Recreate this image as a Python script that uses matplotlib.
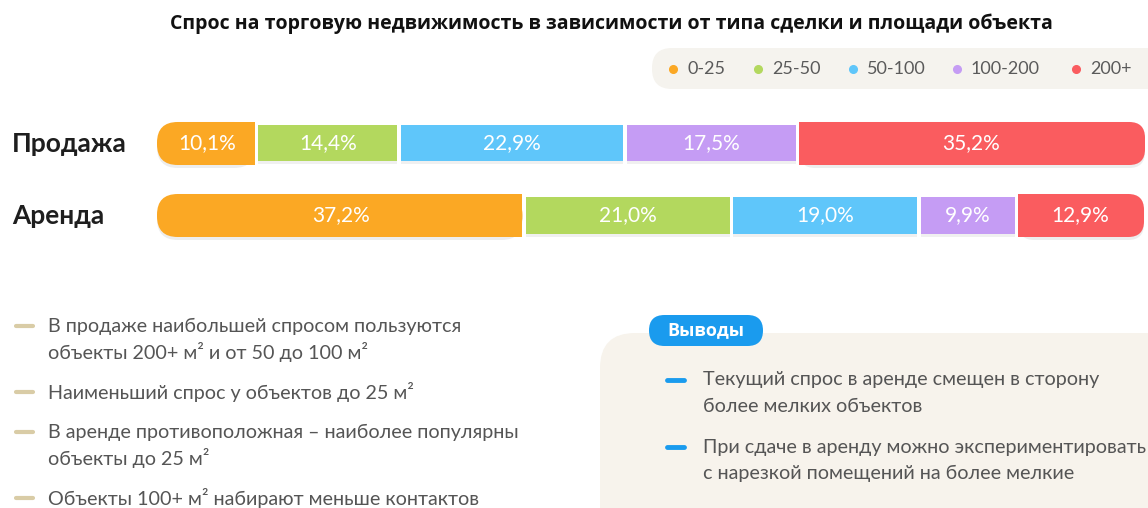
import matplotlib
matplotlib.use("Agg")
import numpy as np
import matplotlib.pyplot as plt
from matplotlib.patches import FancyBboxPatch, Rectangle

# --- data ---
TITLE = "Спрос на торговую недвижимость в зависимости от типа сделки и площади объекта"
rows = ["Продажа", "Аренда"]
bins = ["0-25", "25-50", "50-100", "100-200", "200+"]
sale = [10.1, 14.4, 22.9, 17.5, 35.2]
rent = [37.2, 21.0, 19.0, 9.9, 12.9]
colors = ["#FBA824", "#B3D85E", "#5FC6FA", "#C59CF4", "#FA5C5F"]

notes_left = [
    ["В продаже наибольшей спросом пользуются", "объекты 200+ м² и от 50 до 100 м²"],
    ["Наименьший спрос у объектов до 25 м²"],
    ["В аренде противоположная – наиболее популярны", "объекты до 25 м²"],
    ["Объекты 100+ м² набирают меньше контактов"],
]
notes_right = [
    ["Текущий спрос в аренде смещен в сторону", "более мелких объектов"],
    ["При сдаче в аренду можно экспериментировать", "с нарезкой помещений на более мелкие"],
]

plt.rcParams["font.family"] = ["Lato", "DejaVu Sans"]
W, H = 1148, 508
fig = plt.figure(figsize=(W / 100, H / 100), dpi=100)
fig.patch.set_facecolor("white")

# pixel-space overlay for text and decoration
ax = fig.add_axes([0, 0, 1, 1])
ax.set_xlim(0, W)
ax.set_ylim(H, 0)
ax.axis("off")

ax.text(611, 24, TITLE, ha="center", va="center", fontsize=14,
        fontweight="bold", family=["Open Sans", "DejaVu Sans"], color="#111")

# legend pill
ax.add_patch(FancyBboxPatch((652, 48), 540, 41, boxstyle="round,pad=0,rounding_size=20",
                            facecolor="#F5F3EE", edgecolor="none"))
leg_x = [673, 758, 853, 957, 1076]
for lx, lab, c in zip(leg_x, bins, colors):
    ax.plot(lx, 69, "o", color=c, markersize=5.5)
    ax.text(lx + 14, 69, lab, ha="left", va="center", fontsize=13, color="#5a5a5a")

# row labels
for ry, lab in zip([143.5, 215.5], rows):
    ax.text(12, ry, lab, ha="left", va="center", fontsize=19, fontweight="bold", color="#1e1e1e")

# left notes
y = 326
for item in notes_left:
    ax.plot([16, 33], [y, y], color="#D9CCA6", linewidth=3, solid_capstyle="round")
    for line in item:
        ax.text(48, y, line, ha="left", va="center", fontsize=14.2, color="#555")
        y += 26
    y += 14

# right box
ax.add_patch(FancyBboxPatch((600, 333), 620, 230, boxstyle="round,pad=0,rounding_size=35",
                            facecolor="#F7F3EC", edgecolor="none"))
ax.add_patch(FancyBboxPatch((649, 315), 114, 31, boxstyle="round,pad=0,rounding_size=15.5",
                            facecolor="#1A9BEE", edgecolor="none"))
ax.text(706, 330, "Выводы", ha="center", va="center", fontsize=13,
        fontweight="bold", family=["Open Sans", "DejaVu Sans"], color="white")
y = 380
for item in notes_right:
    ax.plot([667, 684], [y, y], color="#1A9BEE", linewidth=3.5, solid_capstyle="round")
    for line in item:
        ax.text(703, y, line, ha="left", va="center", fontsize=14.2, color="#555")
        y += 26
    y += 15

# --- stacked bars ---
bx = fig.add_axes([157 / W, (H - 260) / H, 988 / W, 160 / H])
bx.set_xlim(0, 100.1)
bx.set_ylim(1.618, -0.604)
bx.axis("off")

px_x = 988 / 100.1
px_y = 72.0
aspect = px_x / px_y
gap = 3.5 / px_x
h_in = 36 / px_y
h_end = 43 / px_y
shadow = 3 / px_y

for ri, vals in enumerate([sale, rent]):
    lefts = np.concatenate([[0], np.cumsum(vals)[:-1]])
    for i, (l, v) in enumerate(zip(lefts, vals)):
        c = colors[i]
        if i == 0 or i == len(vals) - 1:
            x0 = l + (0 if i == 0 else gap / 2)
            w = v - gap / 2
            r = 2.1 if i == 0 else 1.6
            for dy, fc, al in [(shadow, "#000000", 0.07), (0, c, 1)]:
                bx.add_patch(FancyBboxPatch((x0, ri - h_end / 2 + dy), w, h_end,
                                            boxstyle=f"round,pad=0,rounding_size={r}",
                                            mutation_aspect=aspect, facecolor=fc,
                                            edgecolor="none", alpha=al))
            # square off the inner side
            sx = x0 + w / 2 if i == 0 else x0
            bx.add_patch(Rectangle((sx, ri - h_end / 2), w / 2, h_end, facecolor=c, edgecolor="none"))
        else:
            bx.barh(ri + shadow, v - gap, left=l + gap / 2, height=h_in, color="black", alpha=0.06)
            bx.barh(ri, v - gap, left=l + gap / 2, height=h_in, color=c)
        bx.text(l + v / 2, ri, f"{v:.1f}%".replace(".", ","), ha="center", va="center",
                fontsize=15, color="white")

fig.savefig("out.png", dpi=100)
